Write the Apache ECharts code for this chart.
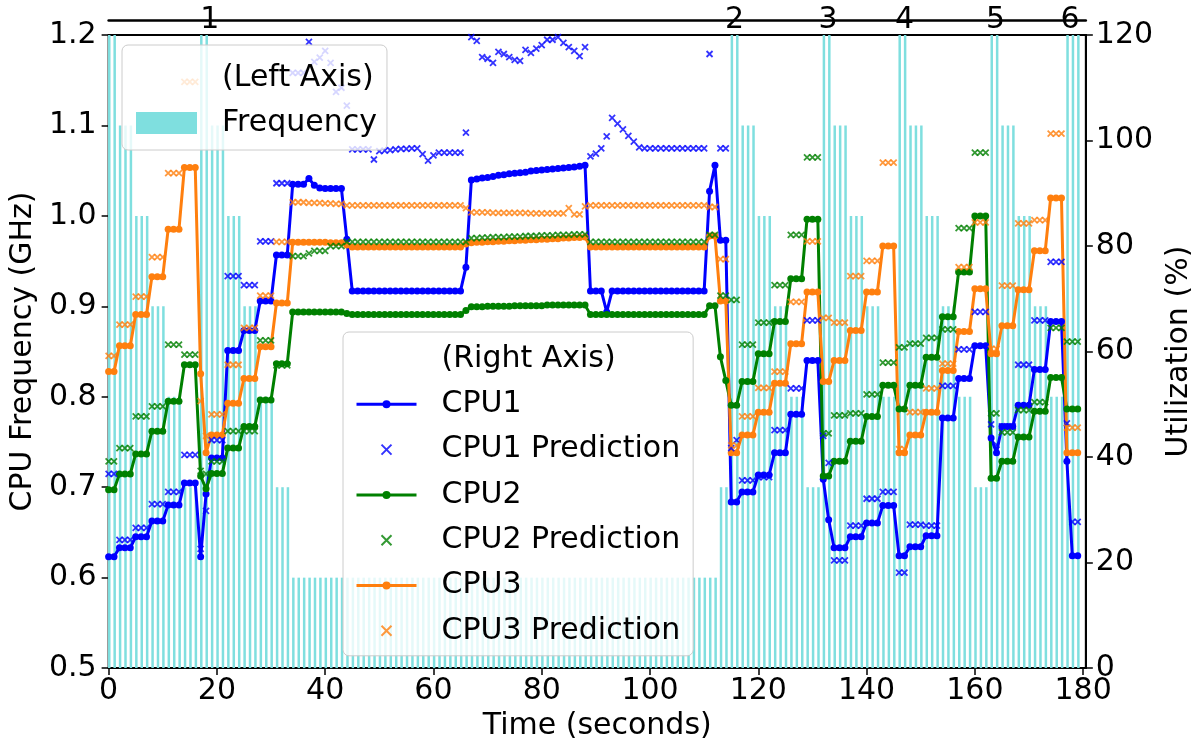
<!DOCTYPE html>
<html>
<head>
<meta charset="utf-8">
<script src="https://cdn.jsdelivr.net/npm/echarts@6/dist/echarts.min.js"></script>
<style>
html,body{margin:0;padding:0;background:#fff;}
#chart{width:1202px;height:746px;}
</style>
</head>
<body>
<div id="chart"></div>
<script>
// ---------------- DATA ----------------
// one sample per second, t = 0 .. 179
const seconds = Array.from({length: 180}, (_, i) => i);

const xTicks = [0, 20, 40, 60, 80, 100, 120, 140, 160, 180];
const topMarkerPositions = [18.7, 115.6, 132.9, 147.0, 163.8, 177.6];
const topMarkerLabels = ['1', '2', '3', '4', '5', '6'];

// CPU frequency (GHz), left axis
const frequencyGHz = [
  1.2,1.2,1.1,1.1,1.1,1.0,1.0,1.0,0.9,0.9,
  0.9,0.8,0.8,0.8,0.7,0.7,0.7,1.2,1.2,1.1,
  1.1,1.1,1.0,1.0,1.0,0.9,0.9,0.9,0.8,0.8,
  0.8,0.7,0.7,0.7,0.6,0.6,0.6,0.6,0.6,0.6,
  0.6,0.6,0.6,0.6,0.6,0.6,0.6,0.6,0.6,0.6,
  0.6,0.6,0.6,0.6,0.6,0.6,0.6,0.6,0.6,0.6,
  0.6,0.6,0.6,0.6,0.6,0.6,0.6,0.6,0.6,0.6,
  0.6,0.6,0.6,0.6,0.6,0.6,0.6,0.6,0.6,0.6,
  0.6,0.6,0.6,0.6,0.6,0.6,0.6,0.6,0.6,0.6,
  0.6,0.6,0.6,0.6,0.6,0.6,0.6,0.6,0.6,0.6,
  0.6,0.6,0.6,0.6,0.6,0.6,0.6,0.6,0.6,0.6,
  0.6,0.6,0.6,0.7,0.7,1.2,1.2,1.1,1.1,1.1,
  1.0,1.0,1.0,0.9,0.9,0.9,0.8,0.8,0.8,0.7,
  0.7,0.7,1.2,1.2,1.1,1.1,1.1,1.0,1.0,1.0,
  0.9,0.9,0.9,0.8,0.8,0.8,1.2,1.2,1.1,1.1,
  1.1,1.0,1.0,1.0,0.9,0.9,0.9,0.8,0.8,0.8,
  0.7,0.7,0.7,1.2,1.2,1.1,1.1,1.1,1.0,1.0,
  1.0,0.9,0.9,0.9,0.8,0.8,0.8,1.2,1.2,1.2
];

// Utilization (%), right axis
const cpu1Util = [
  21.1,21.1,22.8,22.8,22.8,24.9,24.9,24.9,27.9,27.9,
  27.9,30.9,30.9,30.9,35.1,35.1,35.1,21.1,33.0,39.8,
  39.8,39.8,60.2,60.2,60.2,64.0,64.0,64.0,69.6,69.6,
  69.6,78.3,78.3,78.3,91.7,91.7,91.7,92.8,91.5,91.0,
  90.9,90.9,90.9,90.9,81.3,71.5,71.5,71.5,71.5,71.5,
  71.5,71.5,71.5,71.5,71.5,71.5,71.5,71.5,71.5,71.5,
  71.5,71.5,71.5,71.5,71.5,71.5,76.0,92.5,92.7,92.9,
  93.0,93.2,93.4,93.5,93.7,93.8,93.9,94.0,94.2,94.3,
  94.4,94.5,94.6,94.7,94.8,94.9,95.0,95.1,95.3,71.5,
  71.5,71.5,67.5,71.5,71.5,71.5,71.5,71.5,71.5,71.5,
  71.5,71.5,71.5,71.5,71.5,71.5,71.5,71.5,71.5,71.5,
  71.5,90.4,95.3,81.1,81.1,31.5,31.5,33.4,33.4,33.4,
  36.6,36.6,36.6,40.8,40.8,40.8,48.1,48.1,48.1,58.3,
  58.3,58.3,35.8,28.1,22.8,22.8,22.8,24.9,24.9,24.9,
  27.5,27.5,27.5,30.8,30.8,30.8,21.3,21.3,23.0,23.0,
  23.0,25.1,25.1,25.1,47.4,47.4,47.4,54.9,54.9,54.9,
  61.1,61.1,61.1,43.6,40.8,45.8,45.8,45.8,49.8,49.8,
  49.8,56.6,56.6,56.6,65.7,65.7,65.7,39.2,21.3,21.3
];

const cpu2Util = [
  33.8,33.8,36.8,36.8,36.8,40.6,40.6,40.6,44.9,44.9,
  44.9,50.6,50.6,50.6,57.5,57.5,57.5,36.4,34.0,36.9,
  36.9,36.9,41.7,41.7,41.7,45.8,45.8,45.8,50.8,50.8,
  50.8,57.7,57.7,57.7,67.5,67.5,67.5,67.5,67.5,67.5,
  67.5,67.5,67.5,67.5,67.2,67.0,67.0,67.0,67.0,67.0,
  67.0,67.0,67.0,67.0,67.0,67.0,67.0,67.0,67.0,67.0,
  67.0,67.0,67.0,67.0,67.0,67.0,67.8,68.5,68.5,68.5,
  68.6,68.6,68.6,68.6,68.6,68.7,68.7,68.7,68.7,68.7,
  68.7,68.8,68.8,68.8,68.8,68.8,68.8,68.8,68.8,67.0,
  67.0,67.0,67.0,67.0,67.0,67.0,67.0,67.0,67.0,67.0,
  67.0,67.0,67.0,67.0,67.0,67.0,67.0,67.0,67.0,67.0,
  67.0,68.7,68.7,59.0,54.5,49.8,49.8,54.3,54.3,54.3,
  59.6,59.6,59.6,65.7,65.7,65.7,73.8,73.8,73.8,85.1,
  85.1,85.1,36.4,36.4,39.2,39.2,39.2,43.0,43.0,43.0,
  47.7,47.7,47.7,53.6,53.6,53.6,49.1,49.1,53.6,53.6,
  53.6,58.9,58.9,58.9,66.6,66.6,66.6,75.1,75.1,75.1,
  85.7,85.7,85.7,36.0,36.0,39.2,39.2,39.2,43.8,43.8,
  43.8,48.7,48.7,48.7,55.1,55.1,55.1,49.1,49.1,49.1
];

const cpu3Util = [
  56.2,56.2,61.1,61.1,61.1,67.0,67.0,67.0,74.2,74.2,
  74.2,83.2,83.2,83.2,94.9,94.9,94.9,55.8,40.8,44.2,
  44.2,44.2,50.2,50.2,50.2,54.9,54.9,54.9,60.9,60.9,
  60.9,69.2,69.2,69.2,80.7,80.7,80.7,80.7,80.7,80.7,
  80.7,80.6,80.6,80.6,80.2,79.8,79.8,79.8,79.8,79.8,
  79.8,79.8,79.8,79.8,79.8,79.8,79.8,79.8,79.8,79.8,
  79.8,79.8,79.8,79.8,79.8,79.8,80.4,80.6,80.7,80.7,
  80.8,80.8,80.9,80.9,81.0,81.0,81.1,81.1,81.2,81.2,
  81.3,81.3,81.4,81.4,81.5,81.5,81.6,81.6,81.7,79.8,
  79.8,79.8,79.8,79.8,79.8,79.8,79.8,79.8,79.8,79.8,
  79.8,79.8,79.8,79.8,79.8,79.8,79.8,79.8,79.8,79.8,
  79.8,81.9,81.9,69.6,69.6,40.8,40.8,44.2,44.2,44.2,
  48.5,48.5,48.5,54.0,54.0,54.0,61.5,61.5,61.5,71.3,
  71.3,71.3,54.3,54.3,58.3,58.3,58.3,64.0,64.0,64.0,
  71.3,71.3,71.3,80.0,80.0,80.0,40.8,40.8,44.2,44.2,
  44.2,48.5,48.5,48.5,56.4,56.4,56.4,63.8,63.8,63.8,
  71.9,71.9,71.9,59.6,59.6,64.9,64.9,64.9,71.7,71.7,
  71.7,79.1,79.1,79.1,89.1,89.1,89.1,40.8,40.8,40.8
];

const cpu1Pred = [
  36.8,36.8,24.3,24.3,24.3,26.6,26.6,26.6,31.1,31.1,
  31.1,33.4,33.4,33.4,40.4,40.4,40.4,22.6,29.8,43.2,
  43.2,43.2,74.3,74.3,74.3,72.6,72.6,72.6,80.9,80.9,
  80.9,91.9,91.9,91.9,112.8,112.8,112.8,118.7,114.9,115.7,
  117.0,114.7,109.2,110.0,106.6,98.3,98.3,98.3,98.3,96.4,
  98.0,98.1,98.2,98.3,98.4,98.4,98.5,98.5,97.4,96.2,
  97.2,97.7,97.7,97.7,97.7,97.7,101.5,119.6,118.9,115.8,
  115.5,114.7,116.8,116.4,115.8,115.3,115.1,117.2,116.6,117.4,
  118.1,119.1,119.1,119.6,118.5,117.7,117.0,116.0,117.7,97.0,
  97.5,98.5,100.8,104.3,103.2,102.1,100.9,99.8,98.7,98.5,
  98.5,98.5,98.5,98.5,98.5,98.5,98.5,98.5,98.5,98.5,
  98.5,116.4,null,98.5,98.5,41.7,43.2,35.6,35.6,35.6,
  36.2,36.2,36.2,45.1,45.1,45.1,53.0,53.0,53.0,65.9,
  65.9,65.9,44.0,38.9,20.4,20.4,20.4,27.0,27.0,27.0,
  32.1,32.1,32.1,33.4,33.4,33.4,18.1,18.1,27.2,27.2,
  27.2,27.0,27.0,27.0,53.5,53.5,53.5,60.4,60.4,60.4,
  67.5,67.5,67.5,46.2,42.3,45.8,45.8,45.8,57.5,57.5,
  57.5,65.9,65.9,65.9,77.0,77.0,77.0,46.4,27.7,27.7
];

const cpu2Pred = [
  39.2,39.2,41.7,41.7,41.7,47.7,47.7,47.7,49.6,49.6,
  49.6,61.3,61.3,61.3,59.4,59.4,59.4,37.4,36.8,39.2,
  39.2,39.2,44.9,44.9,44.9,44.9,44.9,44.9,62.1,62.1,
  62.1,57.4,57.4,57.4,78.1,78.1,78.1,78.6,79.1,79.1,
  79.1,80.0,80.0,80.0,80.8,80.8,80.8,80.8,80.8,80.8,
  80.8,80.8,80.8,80.8,80.8,80.8,80.8,80.8,80.8,80.8,
  80.8,80.8,80.8,80.8,80.8,80.8,80.8,81.5,81.5,81.6,
  81.6,81.7,81.7,81.7,81.8,81.8,81.8,81.9,81.9,81.9,
  82.0,82.0,82.0,82.1,82.1,82.1,82.2,82.2,82.2,80.8,
  80.8,80.8,80.8,80.8,80.8,80.8,80.8,80.8,80.8,80.8,
  80.8,80.8,80.8,80.8,80.8,80.8,80.8,80.8,80.8,80.8,
  80.8,82.1,82.1,70.6,70.6,69.8,69.8,61.3,61.3,61.3,
  65.5,65.5,65.5,72.6,72.6,72.6,82.1,82.1,82.1,96.8,
  96.8,96.8,44.5,44.5,47.9,47.9,47.9,48.3,48.3,48.3,
  51.9,51.9,51.9,57.9,57.9,57.9,60.8,60.8,61.5,61.5,
  61.5,62.6,62.6,62.6,64.2,64.2,64.2,83.4,83.4,83.4,
  97.7,97.7,97.7,48.3,48.3,44.7,44.7,44.7,48.9,48.9,
  48.9,50.4,50.4,50.4,64.5,64.5,64.5,61.9,61.9,61.9
];

const cpu3Pred = [
  59.2,59.2,65.1,65.1,65.1,70.4,70.4,70.4,77.9,77.9,
  77.9,93.8,93.8,93.8,111.1,111.1,111.1,50.6,44.0,48.1,
  48.1,48.1,57.5,57.5,57.5,64.5,64.5,64.5,70.6,70.6,
  70.6,80.8,80.8,80.8,88.3,88.3,88.3,88.2,88.2,88.2,
  88.1,88.1,88.0,88.0,87.7,87.7,87.7,87.7,87.7,87.7,
  87.7,87.7,87.7,87.7,87.7,87.7,87.7,87.7,87.7,87.7,
  87.7,87.7,87.7,87.7,87.7,87.7,87.2,86.4,86.4,86.4,
  86.4,86.3,86.3,86.3,86.3,86.3,86.3,86.3,86.2,86.2,
  86.2,86.2,86.2,86.2,86.2,87.2,86.0,86.0,87.5,87.7,
  87.7,87.7,87.7,87.7,87.7,87.7,87.7,87.7,87.7,87.7,
  87.7,87.7,87.7,87.7,87.7,87.7,87.7,87.7,87.7,87.7,
  87.7,87.4,87.4,77.5,77.5,42.2,42.2,47.7,47.7,47.7,
  53.1,53.1,53.1,56.2,56.2,56.2,69.4,69.4,69.4,80.9,
  80.9,80.9,66.4,66.4,65.5,65.5,65.5,74.3,74.3,74.3,
  77.2,77.2,77.2,95.8,95.8,95.8,41.5,41.5,48.5,48.5,
  48.5,53.0,53.0,53.0,57.7,57.7,57.7,76.0,76.0,76.0,
  84.5,84.5,84.5,60.5,60.5,72.5,72.5,72.5,84.3,84.3,
  84.3,84.9,84.9,84.9,101.3,101.3,101.3,45.6,45.6,45.6
];

// ---------------- STYLE ----------------
const FONT = 'DejaVu Sans';
const FS = 30;
const BAR_SHIFT = 0.12;          // bars drawn just right of each second
const COLORS = {cpu1: '#0000ff', cpu2: '#008000', cpu3: '#ff7f0e', freq: '#7fdfdf'};
const X_MARK = 'path://M0,0L10,10M10,0L0,10';

function pairs(values, shift) {
  return seconds.map((t, i) => [t + (shift || 0), values[i]]);
}

function lineSeries(name, values, color) {
  return {
    name: name, type: 'line', yAxisIndex: 1, data: pairs(values),
    symbol: 'circle', symbolSize: 7, showAllSymbol: true,
    lineStyle: {color: color, width: 3}, itemStyle: {color: color},
    z: 3, animation: false
  };
}
function predSeries(name, values, color) {
  return {
    name: name, type: 'scatter', yAxisIndex: 1, data: pairs(values),
    symbol: X_MARK, symbolSize: 6,
    itemStyle: {color: color, borderColor: color, borderWidth: 1.8},
    z: 4, animation: false
  };
}

const axisTextStyle = {fontFamily: FONT, fontSize: FS, color: '#000'};

const option = {
  animation: false,
  backgroundColor: '#ffffff',
  textStyle: {fontFamily: FONT},
  grid: {left: 108, right: 109, top: 35, bottom: 75, containLabel: false,
         show: true, borderColor: '#000', borderWidth: 2, backgroundColor: 'transparent'},
  xAxis: [
    {
      type: 'value', min: 0, max: 180.5, position: 'bottom',
      name: 'Time (seconds)', nameLocation: 'middle', nameGap: 42,
      nameTextStyle: axisTextStyle,
      axisLine: {show: true, onZero: false, lineStyle: {color: '#000', width: 2}},
      axisTick: {show: true, length: 7, lineStyle: {color: '#000', width: 1.5}, customValues: xTicks},
      axisLabel: Object.assign({margin: 8, customValues: xTicks}, axisTextStyle),
      splitLine: {show: false}
    },
    {
      type: 'value', min: 0, max: 180.5, position: 'top', offset: 15,
      axisLine: {show: true, onZero: false, lineStyle: {color: '#000', width: 2.5}},
      axisTick: {show: false},
      axisLabel: Object.assign({
        margin: 0, verticalAlign: 'middle', customValues: topMarkerPositions,
        formatter: function (v) {
          let k = 0, best = 1e9;
          topMarkerPositions.forEach((p, i) => { if (Math.abs(p - v) < best) { best = Math.abs(p - v); k = i; } });
          return topMarkerLabels[k];
        }
      }, axisTextStyle),
      splitLine: {show: false}
    }
  ],
  yAxis: [
    {
      type: 'value', min: 0.5, max: 1.2, interval: 0.1, position: 'left',
      name: 'CPU Frequency (GHz)', nameLocation: 'middle', nameGap: 68, nameRotate: 90,
      nameTextStyle: axisTextStyle,
      axisLine: {show: true, onZero: false, lineStyle: {color: '#000', width: 2}},
      axisTick: {show: true, length: 7, lineStyle: {color: '#000', width: 1.5}},
      axisLabel: Object.assign({margin: 12, formatter: v => v.toFixed(1)}, axisTextStyle),
      splitLine: {show: false}
    },
    {
      type: 'value', min: 0, max: 120, interval: 20, position: 'right',
      name: 'Utilization (%)', nameLocation: 'middle', nameGap: 72, nameRotate: 90,
      nameTextStyle: axisTextStyle,
      axisLine: {show: true, onZero: false, lineStyle: {color: '#000', width: 2}},
      axisTick: {show: true, length: 7, lineStyle: {color: '#000', width: 1.5}},
      axisLabel: Object.assign({margin: 10}, axisTextStyle),
      splitLine: {show: false}
    }
  ],
  legend: [
    {
      left: 122, top: 45, orient: 'vertical', selectedMode: false,
      padding: [18, 10, 12, 14], itemGap: 15, itemWidth: 61, itemHeight: 22,
      backgroundColor: 'rgba(255,255,255,0.8)', borderColor: '#cccccc', borderWidth: 1, borderRadius: 6,
      textStyle: {fontFamily: FONT, fontSize: FS, lineHeight: 30, color: '#000', padding: [0, 0, 0, 20]},
      data: [
        {name: '(Left Axis)', icon: 'rect', itemStyle: {opacity: 0}},
        {name: 'Frequency', icon: 'rect'}
      ],
      z: 20
    },
    {
      left: 343, top: 332, orient: 'vertical', selectedMode: false,
      padding: [12, 13, 10, 12], itemGap: 15.3, itemWidth: 60, itemHeight: 10,
      backgroundColor: 'rgba(255,255,255,0.8)', borderColor: '#cccccc', borderWidth: 1, borderRadius: 6,
      lineStyle: {width: 3},
      textStyle: {fontFamily: FONT, fontSize: FS, lineHeight: 30, color: '#000', padding: [0, 0, 0, 20]},
      data: [
        {name: '(Right Axis)', icon: 'rect', itemStyle: {opacity: 0}},
        'CPU1', 'CPU1 Prediction', 'CPU2', 'CPU2 Prediction', 'CPU3', 'CPU3 Prediction'
      ],
      z: 20
    }
  ],
  series: [
    {name: '(Left Axis)', type: 'line', yAxisIndex: 0, data: []},
    {name: '(Right Axis)', type: 'line', yAxisIndex: 1, data: []},
    {
      name: 'Frequency', type: 'bar', yAxisIndex: 0, data: pairs(frequencyGHz, BAR_SHIFT),
      barWidth: 2.5, itemStyle: {color: COLORS.freq}, clip: true, z: 1
    },
    lineSeries('CPU1', cpu1Util, COLORS.cpu1),
    predSeries('CPU1 Prediction', cpu1Pred, COLORS.cpu1),
    lineSeries('CPU2', cpu2Util, COLORS.cpu2),
    predSeries('CPU2 Prediction', cpu2Pred, COLORS.cpu2),
    lineSeries('CPU3', cpu3Util, COLORS.cpu3),
    predSeries('CPU3 Prediction', cpu3Pred, COLORS.cpu3)
  ]
};

const chart = echarts.init(document.getElementById('chart'), null, {renderer: 'canvas'});
chart.setOption(option);
</script>
</body>
</html>
